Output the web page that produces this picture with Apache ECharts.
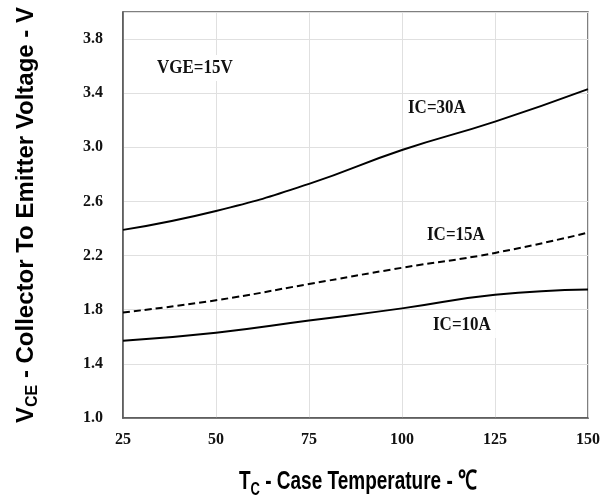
<!DOCTYPE html>
<html>
<head>
<meta charset="utf-8">
<script src="https://cdn.jsdelivr.net/npm/echarts@6/dist/echarts.min.js"></script>
<style>
  html, body { margin: 0; padding: 0; background: #fff; }
  #chart { width: 611px; height: 501px; }
</style>
</head>
<body>
<div id="chart"></div>
<script>
// temperaturas del eje x
var temps = [25, 50, 75, 100, 125, 150];
// VCE para cada corriente
var ic30 = [2.39, 2.53, 2.73, 2.98, 3.19, 3.43];
var ic15 = [1.78, 1.87, 1.99, 2.11, 2.22, 2.37];
var ic10 = [1.57, 1.63, 1.72, 1.81, 1.91, 1.95];

function pares(vals) {
    return temps.map(function (t, i) { return [t, vals[i]]; });
}

var dom = document.getElementById('chart');
var myChart = echarts.init(dom, null, { renderer: 'canvas' });

var tickFont = { fontFamily: 'Liberation Serif', fontWeight: 'bold', fontSize: 16, color: '#111' };

// etiquetas dentro del grafico (texto con fondo blanco que corta la reticula)
function nota(texto, x, y) {
    return {
        type: 'text', x: x, y: y, scaleY: 1.12, z: 100,
        style: {
            text: texto,
            fontFamily: 'Liberation Serif', fontWeight: 'bold', fontSize: 17, fill: '#111',
            align: 'left', verticalAlign: 'middle',
            backgroundColor: '#fff', padding: [3, 5]
        }
    };
}

var titulo = {
    a: { fontFamily: 'Liberation Sans', fontWeight: 'bold', fontSize: 19, color: '#000' },
    s: { fontFamily: 'Liberation Sans', fontWeight: 'bold', fontSize: 13, color: '#000', verticalAlign: 'bottom', padding: [12, 0, 0, 0] }
};

var option = {
    animation: false,
    grid: {
        left: 123, right: 23, top: 12, bottom: 83,
        show: true, borderColor: '#555', borderWidth: 1.5, backgroundColor: 'transparent'
    },
    xAxis: {
        type: 'value',
        min: 25, max: 150, interval: 25,
        axisLine: { lineStyle: { color: '#555', width: 1.5 } },
        axisTick: { show: false },
        splitLine: { lineStyle: { color: '#e0e0e0', width: 1 } },
        axisLabel: Object.assign({ margin: 14 }, tickFont)
    },
    yAxis: {
        type: 'value',
        min: 1.0, max: 4.0, interval: 0.4,
        axisLine: { show: true, lineStyle: { color: '#555', width: 1.5 } },
        axisTick: { show: false },
        splitLine: { lineStyle: { color: '#e0e0e0', width: 1 } },
        axisLabel: Object.assign({
            margin: 20,
            showMaxLabel: false,
            formatter: function (v) { return v.toFixed(1); }
        }, tickFont),
        name: '{a|V}{s|CE}{a| - Collector To Emitter Voltage - V}',
        nameLocation: 'middle',
        nameRotate: 90,
        nameGap: 82,
        nameTextStyle: {
            rich: {
                a: { fontFamily: 'Liberation Sans', fontWeight: 'bold', fontSize: 24, color: '#000' },
                s: { fontFamily: 'Liberation Sans', fontWeight: 'bold', fontSize: 16, color: '#000', verticalAlign: 'bottom', padding: [14, 0, 0, 0] }
            }
        }
    },
    series: [
        {
            name: 'IC=30A', type: 'line', smooth: true, showSymbol: false,
            data: pares(ic30),
            lineStyle: { color: '#000', width: 2 }
        },
        {
            name: 'IC=15A', type: 'line', smooth: true, showSymbol: false,
            data: pares(ic15),
            lineStyle: { color: '#000', width: 2, type: [7, 4] }
        },
        {
            name: 'IC=10A', type: 'line', smooth: true, showSymbol: false,
            data: pares(ic10),
            lineStyle: { color: '#000', width: 2 }
        }
    ],
    graphic: [
        nota('VGE=15V', 152, 68),
        nota('IC=30A', 403, 108),
        nota('IC=15A', 422, 235),
        nota('IC=10A', 428, 325),
        {
            type: 'text', x: 358, y: 482, scaleY: 1.4,
            style: {
                text: '{a|T}{s|C}{a| - Case Temperature - ℃}',
                rich: titulo,
                align: 'center', verticalAlign: 'middle'
            }
        }
    ]
};

myChart.setOption(option);
window.addEventListener('resize', myChart.resize);
</script>
</body>
</html>
